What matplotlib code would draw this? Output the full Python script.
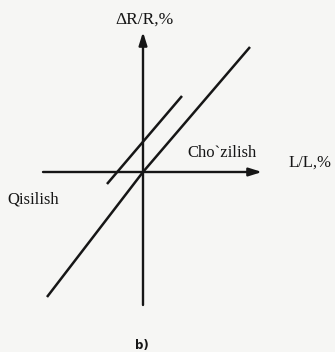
import matplotlib.pyplot as plt

# strain (x) vs relative resistance change (y), arbitrary units
long_x = [-9.6, 0.0, 10.7]
long_y = [-12.5, 0.0, 12.5]
short_x = [-3.6, 3.9]
short_y = [-1.2, 7.6]

x_axis_span = [-10.0, 11.9]
y_axis_span = [-13.3, 14.0]

x_label = "L/L,%"
y_label = "ΔR/R,%"
stretch_label = "Cho`zilish"
squeeze_label = "Qisilish"
panel_label = "b)"

ink = "#161616"
paper = "#f6f6f4"

fig = plt.figure(figsize=(3.35, 3.52), dpi=100)
fig.patch.set_facecolor(paper)
ax = fig.add_axes([0, 0, 1, 1])
ax.set_facecolor(paper)
ax.set_xlim(-14.3, 19.2)
ax.set_ylim(-18.0, 17.2)
ax.axis("off")

arrow = dict(arrowstyle="-|>,head_length=0.7,head_width=0.22", lw=1.7,
             color=ink, mutation_scale=11, shrinkA=0, shrinkB=0)
ax.annotate("", xy=(x_axis_span[1], 0), xytext=(x_axis_span[0], 0), arrowprops=arrow)
ax.annotate("", xy=(0, y_axis_span[1]), xytext=(0, y_axis_span[0]), arrowprops=arrow)

ax.plot(long_x, long_y, color=ink, lw=1.8, solid_capstyle="butt")
ax.plot(short_x, short_y, color=ink, lw=1.8, solid_capstyle="butt")

serif = "Liberation Serif"
ax.text(0.2, 15.2, y_label, family=serif, fontsize=12.5, ha="center", va="center", color=ink)
ax.text(16.7, 0.9, x_label, family=serif, fontsize=12, ha="center", va="center", color=ink)
ax.text(7.9, 1.9, stretch_label, family=serif, fontsize=12, ha="center", va="center", color=ink)
ax.text(-13.6, -2.7, squeeze_label, family=serif, fontsize=12, ha="left", va="center", color=ink)
ax.text(-0.1, -17.3, panel_label, fontsize=8.5, fontweight="bold", ha="center", va="center", color=ink)

fig.savefig("out.png", dpi=100, facecolor=paper)
